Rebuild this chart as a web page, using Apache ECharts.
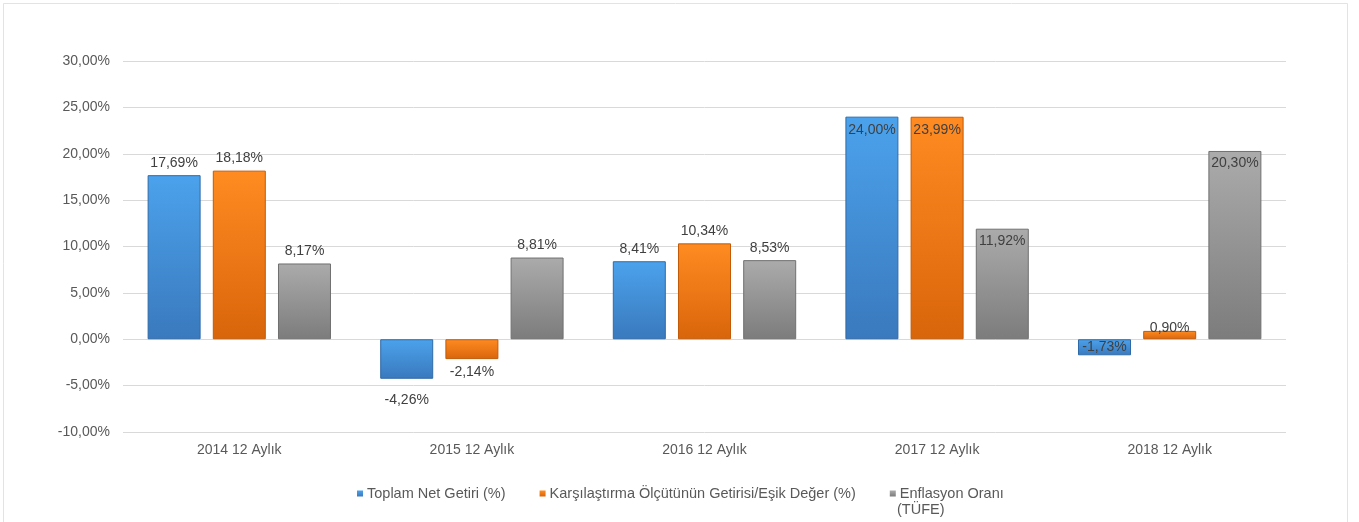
<!DOCTYPE html>
<html lang="tr">
<head>
    <meta charset="UTF-8">
    <title>Getiri</title>
    <style>
        body{
            margin: 0;
            overflow: hidden;
            background: #fff;
        }
    </style>
</head>
<body>
<div id="main" style="width: 1359px;height:522px;"></div>
<script src="https://cdn.jsdelivr.net/npm/echarts@6/dist/echarts.min.js"></script>
<script type="text/javascript">
    // veriler
    var years = ['2014 12 Aylık', '2015 12 Aylık', '2016 12 Aylık', '2017 12 Aylık', '2018 12 Aylık'];
    var netGetiri = [17.69, -4.26, 8.41, 24.00, -1.73];
    var esikDeger = [18.18, -2.14, 10.34, 23.99, 0.90];
    var tufe = [8.17, 8.81, 8.53, 11.92, 20.30];
    var seriesNames = ['Toplam Net Getiri (%)', 'Karşılaştırma Ölçütünün Getirisi/Eşik Değer (%)', 'Enflasyon Oranı\n(TÜFE)'];
    var yTicks = [-10, -5, 0, 5, 10, 15, 20, 25, 30];

    // etiket yerleri (excel'deki gibi)
    var labelPos = [
        [['top', 5], ['bottom', 14], ['top', 5], ['insideTop', 6], ['inside', 0]],
        [['top', 5], ['bottom', 6], ['top', 5], ['insideTop', 6], ['top', -4]],
        [['top', 5], ['top', 5], ['top', 5], ['insideTop', 5], ['insideTop', 5]]
    ];
    var colors = [
        ['#4ba2ec', '#3a79bd', '#2f6aa8'],
        ['#ff8b22', '#d9650b', '#c25a08'],
        ['#ababab', '#7c7c7c', '#707070']
    ];

    function fmt(v) {
        return v.toFixed(2).replace('.', ',') + '%';
    }

    var chart = echarts.init(document.getElementById('main'));

    var series = [netGetiri, esikDeger, tufe].map(function (arr, s) {
        return {
            name: seriesNames[s],
            type: 'bar',
            barWidth: 53,
            barGap: '23%',
            itemStyle: {
                color: new echarts.graphic.LinearGradient(0, 0, 0, 1, [
                    {offset: 0, color: colors[s][0]},
                    {offset: 1, color: colors[s][1]}
                ]),
                borderColor: colors[s][2],
                borderWidth: 1
            },
            label: {
                show: true,
                color: '#404040',
                fontSize: 14,
                fontFamily: 'Liberation Sans',
                formatter: function (p) { return fmt(p.value); }
            },
            data: arr.map(function (v, i) {
                return {
                    value: v,
                    label: {position: labelPos[s][i][0], distance: labelPos[s][i][1]}
                };
            })
        };
    });

    var option = {
        animation: false,
        textStyle: {fontFamily: 'Liberation Sans'},
        graphic: [{
            type: 'rect',
            shape: {x: 3.5, y: 3.5, width: 1344, height: 540},
            style: {fill: null, stroke: '#e3e3e3', lineWidth: 1}
        }, {
            // ikinci satır (legend ikonu ilk satırda kalsın diye)
            type: 'text',
            left: 897,
            top: 502,
            style: {text: '(TÜFE)', fill: '#595959', font: '14.5px "Liberation Sans"'}
        }],
        legend: {
            left: 352,
            top: 481,
            itemWidth: 6,
            itemHeight: 6,
            itemGap: 34,
            icon: 'rect',
            itemStyle: {borderWidth: 0},
            textStyle: {color: '#595959', fontSize: 14.5, padding: [0, 0, 0, -1]},
            formatter: function (name) { return name.split('\n')[0]; },
            data: seriesNames
        },
        grid: {
            left: 123,
            right: 73,
            top: 61,
            bottom: 90
        },
        xAxis: {
            type: 'category',
            data: years,
            axisLine: {show: false},
            axisTick: {show: false},
            axisLabel: {color: '#595959', fontSize: 14, margin: 11}
        },
        yAxis: {
            type: 'value',
            min: yTicks[0],
            max: yTicks[yTicks.length - 1],
            interval: 5,
            axisLine: {show: false},
            axisTick: {show: false},
            splitLine: {lineStyle: {color: '#d9d9d9'}},
            axisLabel: {
                color: '#595959',
                fontSize: 14,
                margin: 13,
                formatter: function (v) { return v.toFixed(2).replace('.', ',') + '%'; }
            }
        },
        series: series
    };
    option && chart.setOption(option);
</script>
</body>
</html>
